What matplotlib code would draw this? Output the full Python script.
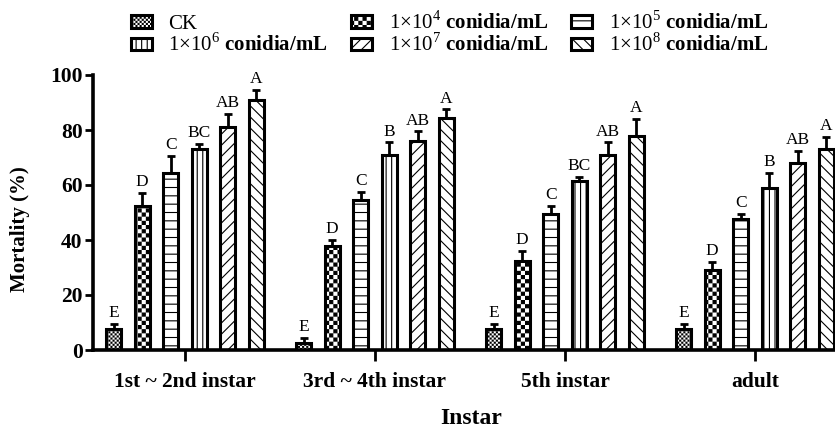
import numpy as np
import matplotlib
matplotlib.use("Agg")
import matplotlib.pyplot as plt
import matplotlib.hatch as mhatch
from matplotlib.path import Path

# data
groups = ["1st ~ 2nd instar", "3rd ~ 4th instar", "5th instar", "adult"]
series = ["CK", "1×10$^{4}$ $\\mathbf{conidia/mL}$", "1×10$^{5}$ $\\mathbf{conidia/mL}$",
          "1×10$^{6}$ $\\mathbf{conidia/mL}$", "1×10$^{7}$ $\\mathbf{conidia/mL}$",
          "1×10$^{8}$ $\\mathbf{conidia/mL}$"]
ck = [7.5, 2.5, 7.5, 7.5]
c1e4 = [52.5, 38, 32.5, 29]
c1e5 = [64.5, 54.5, 49.5, 47.5]
c1e6 = [73, 71, 61.5, 59]
c1e7 = [81, 76, 71, 68]
c1e8 = [91, 84.5, 78, 73]
ck_err = [2, 2, 2, 2]
c1e4_err = [4.5, 2, 3.5, 3]
c1e5_err = [6, 3, 3, 2]
c1e6_err = [2, 4.5, 1.5, 5.5]
c1e7_err = [5, 3.5, 4.5, 4.5]
c1e8_err = [3.5, 3, 6, 4.5]
letters = [["E", "D", "C", "BC", "AB", "A"],
           ["E", "D", "C", "B", "AB", "A"],
           ["E", "D", "C", "BC", "AB", "A"],
           ["E", "D", "C", "B", "AB", "A"]]

values = [ck, c1e4, c1e5, c1e6, c1e7, c1e8]
errors = [ck_err, c1e4_err, c1e5_err, c1e6_err, c1e7_err, c1e8_err]

HATCH_LW = 0.8
plt.rcParams["hatch.linewidth"] = HATCH_LW
plt.rcParams["font.family"] = "Liberation Serif"
plt.rcParams["mathtext.fontset"] = "custom"
plt.rcParams["mathtext.rm"] = "Liberation Serif"
plt.rcParams["mathtext.bf"] = "Liberation Serif:bold"


# checkerboard hatch (used in place of the '*' stars pattern)
class CheckerHatch(mhatch.HatchPatternBase):
    def __init__(self, hatch, density):
        n = hatch.count("*") * density
        self.n = n + (n % 2)
        self.num_vertices = (self.n * self.n // 2) * 5 if n else 0

    def set_vertices_and_codes(self, vertices, codes):
        n = self.n
        s = 1.0 / n
        shrink = HATCH_LW / 72 / 2
        sq = np.array([[shrink, shrink], [s - shrink, shrink], [s - shrink, s - shrink],
                       [shrink, s - shrink], [shrink, shrink]])
        parts = [sq + [i * s, j * s] for i in range(n) for j in range(n) if (i + j) % 2 == 0]
        vertices[:] = np.concatenate(parts)
        codes[:] = np.tile([Path.MOVETO, Path.LINETO, Path.LINETO, Path.LINETO,
                            Path.CLOSEPOLY], len(parts))


mhatch._hatch_types = [t for t in mhatch._hatch_types if t is not mhatch.Stars] + [CheckerHatch]

hatches = ["********", "****", "--", "|||", "///", "\\\\\\"]

fig = plt.figure(figsize=(8.35, 4.32), dpi=100)
ax = fig.add_axes([93 / 835, 82 / 432, 742 / 835, 275 / 432])

x = np.arange(len(groups))
pitch = 0.15
width = 0.08
handles = []
for i, (vals, errs) in enumerate(zip(values, errors)):
    pos = x + (i - 2.5) * pitch
    bars = ax.bar(pos, vals, width, yerr=[np.zeros(len(errs)), errs],
                  color="white", edgecolor="black", linewidth=2.2, hatch=hatches[i],
                  error_kw=dict(ecolor="black", elinewidth=2, capsize=3, capthick=2),
                  label=series[i])
    handles.append(bars)
    for j in range(len(groups)):
        ax.text(pos[j], vals[j] + errs[j] + 1.0, letters[j][i], ha="center", va="bottom",
                fontsize=12.5)

ax.set_xlim(-0.484, 3.421)
ax.set_ylim(0, 100)
ax.set_yticks(range(0, 101, 20))
ax.set_xticks(x)
ax.set_xticklabels(groups, fontweight="bold", fontsize=15.5)
for lab in ax.get_yticklabels():
    lab.set_fontweight("bold")
    lab.set_fontsize(15.5)
ax.spines["top"].set_visible(False)
ax.spines["right"].set_visible(False)
ax.spines["left"].set_linewidth(2.6)
ax.spines["bottom"].set_linewidth(2.6)
ax.tick_params(axis="y", length=6, width=2, pad=1.5)
ax.tick_params(axis="x", length=8, width=2, pad=8)

ax.set_ylabel("Mortality (%)", fontsize=15, fontweight="bold")
ax.yaxis.set_label_coords(-0.085, 0.44)
ax.set_xlabel("Instar", fontsize=17, fontweight="bold")
ax.xaxis.set_label_coords(0.51, -0.212)

# legend filled row by row: CK, 1e4, 1e5 / 1e6, 1e7, 1e8
order = [0, 3, 1, 4, 2, 5]
fig.legend(handles=[handles[k] for k in order], ncol=3, loc="upper left",
           bbox_to_anchor=(131 / 835, 1 - 11 / 432),
           frameon=False, fontsize=15, borderaxespad=0, borderpad=0, handlelength=1.0,
           handleheight=0.55, handletextpad=0.8, labelspacing=0.0, columnspacing=1.1)

fig.savefig("out.png", dpi=100)
